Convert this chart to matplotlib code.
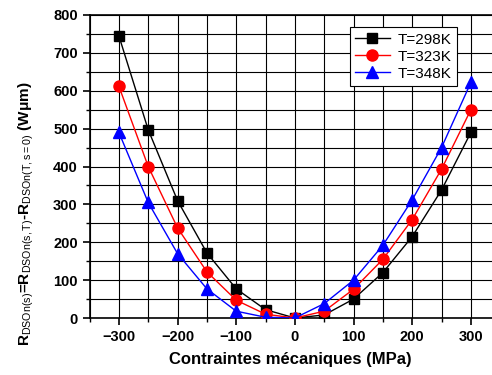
import numpy as np
import matplotlib
matplotlib.use('Agg')
import matplotlib.pyplot as plt
from matplotlib.ticker import MultipleLocator

matplotlib.rcParams['font.family'] = 'Liberation Sans'
matplotlib.rcParams['mathtext.fontset'] = 'custom'
matplotlib.rcParams['mathtext.rm'] = 'Liberation Sans'
matplotlib.rcParams['mathtext.it'] = 'Liberation Sans'
matplotlib.rcParams['mathtext.bf'] = 'Liberation Sans:bold'

stress = [-300, -250, -200, -150, -100, -50, 0, 50, 100, 150, 200, 250, 300]
r_298 = [745, 497, 310, 172, 77, 22, 0, 8, 50, 120, 215, 338, 490]
r_323 = [612, 400, 238, 122, 47, 10, 0, 18, 76, 155, 260, 393, 550]
r_348 = [490, 305, 170, 77, 18, 2, 0, 38, 100, 192, 312, 450, 622]
labels = ['T=298K', 'T=323K', 'T=348K']

fig = plt.figure(figsize=(4.92, 3.75), dpi=100)
ax = fig.add_axes([0.182, 0.152, 0.818, 0.808])

ax.plot(stress, r_298, color='black', marker='s', markersize=7, lw=1, label=labels[0], zorder=3)
ax.plot(stress, r_323, color='red', marker='o', markersize=8, lw=1, label=labels[1], zorder=3)
ax.plot(stress, r_348, color='blue', marker='^', markersize=8, lw=1, label=labels[2], zorder=3)

ax.set_xlim(-350, 336)
ax.set_ylim(0, 800)
ax.xaxis.set_major_locator(MultipleLocator(100))
ax.xaxis.set_minor_locator(MultipleLocator(50))
ax.yaxis.set_major_locator(MultipleLocator(100))
ax.yaxis.set_minor_locator(MultipleLocator(50))
ax.grid(True, which='both', color='black', lw=0.8)
ax.set_axisbelow(True)
ax.spines['right'].set_visible(False)
for s in ['left', 'bottom', 'top']:
    ax.spines[s].set_linewidth(1.2)
ax.tick_params(which='major', direction='out', length=5, width=1.2, labelsize=10.5)
ax.tick_params(which='minor', direction='out', length=3, width=1)
for t in ax.get_xticklabels() + ax.get_yticklabels():
    t.set_fontweight('bold')

ax.set_xlabel('Contraintes mécaniques (MPa)', fontsize=12, fontweight='bold', labelpad=6)
ax.set_ylabel(r'R$_{\rm DSOn(s)}$=R$_{\rm DSOn(s,T)}$-R$_{\rm DSOn(T,s=0)}$ (W$\bf{\mu}$m)',
              fontsize=11, fontweight='bold')
ax.yaxis.set_label_coords(-0.133, 0.345)

leg = ax.legend(loc='upper left', bbox_to_anchor=(0.627, 0.985), fontsize=11,
                fancybox=False, framealpha=1, edgecolor='black', handlelength=2.3,
                borderpad=0.35, labelspacing=0.2, handletextpad=0.5)
leg.get_frame().set_linewidth(0.8)

fig.savefig('out.png', dpi=100)
